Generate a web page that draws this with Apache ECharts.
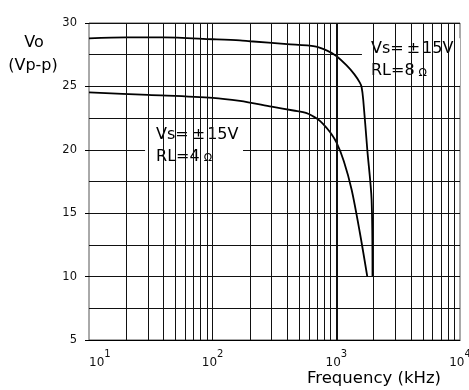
<!DOCTYPE html>
<html><head><meta charset="utf-8">
<script src="https://cdn.jsdelivr.net/npm/echarts@6/dist/echarts.min.js"></script>
<style>html,body{margin:0;padding:0;background:#fff}#c{width:469px;height:390px}</style>
</head><body><div id="c"></div>
<script>
// RL = 8 ohm curve
const freq8 = [10, 20, 40, 100, 166, 200, 400, 670, 850, 1000, 1211, 1400, 1549, 1600, 1650, 1780, 1928, 1961];
const v8 = [28.78, 28.86, 28.86, 28.72, 28.63, 28.56, 28.33, 28.15, 27.8, 27.4, 26.65, 25.95, 25.3, 24.95, 23.95, 20.0, 16.07, 10.0];
// RL = 4 ohm curve
const freq4 = [10, 30, 100, 166, 300, 450, 575, 700, 780, 888, 1000, 1150, 1330, 1550, 1780];
const v4 = [24.53, 24.33, 24.1, 23.85, 23.4, 23.1, 22.9, 22.45, 22.05, 21.4, 20.6, 19.1, 16.85, 13.46, 10.0];
// vertical grid lines (log decades subdivisions)
const gridFreqs = [20, 30, 40, 50, 60, 70, 80, 90, 100, 200, 300, 400, 500, 600, 700, 800, 900, 1000, 2000, 3000, 4000, 5000, 6000, 7000, 8000, 9000];
const thickFreqs = [1000];
// annotation boxes (data coords) and text
const box1 = {x0: 28.4, y0: 22.42, x1: 176, y1: 19.2, text: '{t|Vs=}{pm|±}{t|15V}\n{t|RL=4}{o|Ω}'};
const box2 = {x0: 1611, y0: 28.8, x1: 10000, y1: 25.06, text: '{t|Vs=}{pm|±}{t|15V}\n{t|RL=8}{o|Ω}'};

const FONT = 'DejaVu Sans';
const richBox = {
  t: {fontFamily: FONT, fontSize: 16, lineHeight: 22, color: '#000', verticalAlign: 'bottom'},
  pm: {fontFamily: FONT, fontSize: 16, lineHeight: 22, color: '#000', padding: [0, 2, 0, 3], verticalAlign: 'bottom'},
  o: {fontFamily: FONT, fontSize: 11, lineHeight: 22, color: '#000', padding: [0, 0, 1, 4], verticalAlign: 'bottom'}
};

const chart = echarts.init(document.getElementById('c'), null, {renderer: 'canvas'});
chart.setOption({
  animation: false,
  backgroundColor: '#fff',
  grid: {left: 89, right: 9, top: 23, bottom: 50, show: true, borderColor: '#555', borderWidth: 1, containLabel: false, outerBoundsMode: 'none'},
  xAxis: {
    type: 'log', logBase: 10, min: 10, max: 10000,
    splitLine: {show: false}, axisTick: {show: false},
    axisLine: {show: true, lineStyle: {color: '#000', width: 1}},
    axisLabel: {
      margin: 9, alignMinLabel: 'left',
      formatter: v => '{b|10}{s|' + Math.round(Math.log10(v)) + '}',
      rich: {
        b: {fontFamily: FONT, fontSize: 12, lineHeight: 20, color: '#111', verticalAlign: 'bottom'},
        s: {fontFamily: FONT, fontSize: 10, lineHeight: 20, color: '#111', verticalAlign: 'top'}
      }
    }
  },
  yAxis: {
    type: 'value', min: 5, max: 30, interval: 5,
    axisLine: {show: false},
    axisTick: {show: true, length: 4, lineStyle: {color: '#000'}},
    axisLabel: {margin: 12, fontFamily: FONT, fontSize: 11.5, color: '#111'},
    splitLine: {show: true, lineStyle: {color: '#111', width: 1}},
    minorTick: {show: false, splitNumber: 2},
    minorSplitLine: {show: true, lineStyle: {color: '#111', width: 1}}
  },
  graphic: [
    {type: 'text', x: 34, y: 43, style: {text: 'Vo', font: '16px "DejaVu Sans"', fill: '#000', align: 'center', verticalAlign: 'middle'}},
    {type: 'text', x: 33, y: 66, style: {text: '(Vp-p)', font: '16px "DejaVu Sans"', fill: '#000', align: 'center', verticalAlign: 'middle'}},
    {type: 'text', x: 374, y: 379, style: {text: 'Frequency (kHz)', font: '16.5px "DejaVu Sans"', fill: '#000', align: 'center', verticalAlign: 'middle'}}
  ],
  series: [
    {
      type: 'line', data: [], z: 1, silent: true,
      markLine: {
        silent: true, symbol: ['none', 'none'], label: {show: false},
        lineStyle: {color: '#111', width: 1, type: 'solid'},
        data: gridFreqs.map(f => ({xAxis: f, lineStyle: {width: thickFreqs.includes(f) ? 2 : 1, color: '#111', type: 'solid'}}))
      }
    },
    {
      type: 'line', data: [], z: 3, silent: true,
      markArea: {
        silent: true,
        itemStyle: {color: '#fff', opacity: 1},
        data: [
          [{xAxis: box1.x0, yAxis: box1.y0, label: {show: true, position: [11, 2], formatter: box1.text, rich: richBox}}, {xAxis: box1.x1, yAxis: box1.y1}],
          [{xAxis: box2.x0, yAxis: box2.y0, label: {show: true, position: [9, -3], formatter: box2.text, rich: richBox}}, {xAxis: box2.x1, yAxis: box2.y1}]
        ]
      }
    },
    {
      name: 'RL=8', type: 'line', z: 4, symbol: 'none', smooth: 0.3,
      lineStyle: {color: '#000', width: 1.8},
      data: freq8.map((f, i) => [f, v8[i]])
    },
    {
      name: 'RL=4', type: 'line', z: 4, symbol: 'none', smooth: 0.3,
      lineStyle: {color: '#000', width: 1.8},
      data: freq4.map((f, i) => [f, v4[i]])
    }
  ]
});
</script>
</body></html>
